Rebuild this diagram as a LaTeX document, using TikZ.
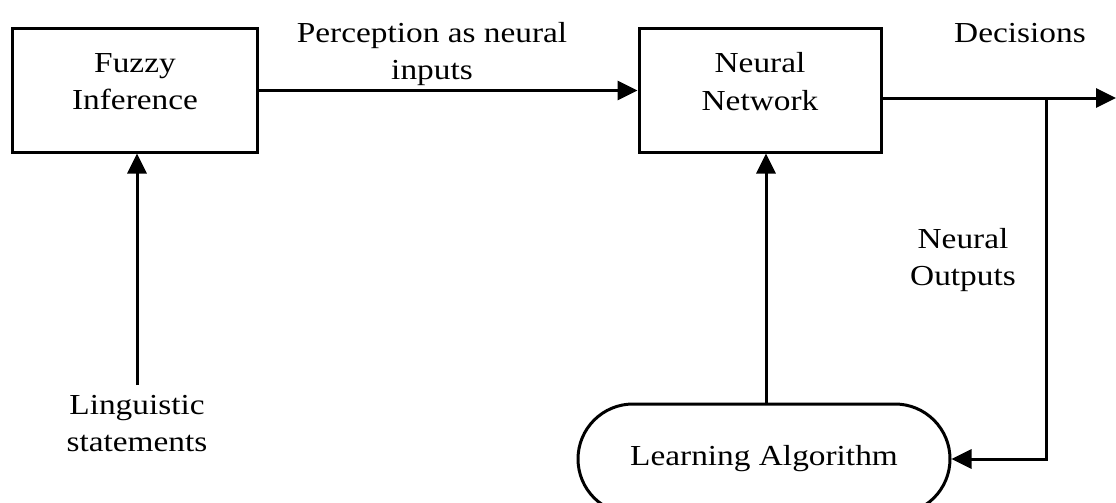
\documentclass[tikz,border=0pt]{standalone}
\usepackage{fontspec}
\setmainfont{Liberation Serif}[FakeStretch=1.15]
\usetikzlibrary{arrows.meta,shapes.misc}
\begin{document}
\begin{tikzpicture}[x=1pt,y=-1pt,line width=3pt,
  txt/.style={font=\fontsize{29}{37.5}\selectfont, align=center, inner sep=0pt},
  box/.style={draw, rectangle, inner sep=0pt},
  arr/.style={-{Triangle[length=20pt,width=19pt]}}]
\useasboundingbox (0,0) rectangle (1116,503);
% boxes
\node[box, minimum width=245pt, minimum height=123pt] (fuzzy) at (134.5,90.5) {};
\node[txt] (fuzzyt) at (135,81.5) {Fuzzy\\Inference};
\node[box, minimum width=242pt, minimum height=123pt] (neural) at (760,90.5) {};
\node[txt] (neuralt) at (760,81.5) {Neural\\Network};
\node[draw, rounded rectangle, minimum width=372pt, minimum height=110pt, inner sep=0pt,
      font=\fontsize{29}{37.5}\selectfont] (learn) at (764,459) {Learning Algorithm};
% labels
\node[txt] (ling) at (137,423.5) {Linguistic\\statements};
\node[txt] (perc) at (432,54) {Perception as neural\\inputs};
\node[txt] (dec) at (1020,33.5) {Decisions};
\node[txt] (nout) at (963,260) {Neural\\Outputs};
% coordinates
\coordinate (outend) at (1116,98);
\coordinate (branch) at (1046,98);
\coordinate (lingtop) at (137,385);
\coordinate (learntop) at (766,405);
% connectors
\draw[arr] (fuzzy.east) -- (neural.west);
\draw[arr] (neural.east |- outend) -- (outend);
\draw[arr] (branch) -- (branch |- learn.east) -- (learn.east);
\draw[arr] (lingtop) -- (lingtop |- fuzzy.south);
\draw[arr] (learntop) -- (learntop |- neural.south);
\end{tikzpicture}
\end{document}
